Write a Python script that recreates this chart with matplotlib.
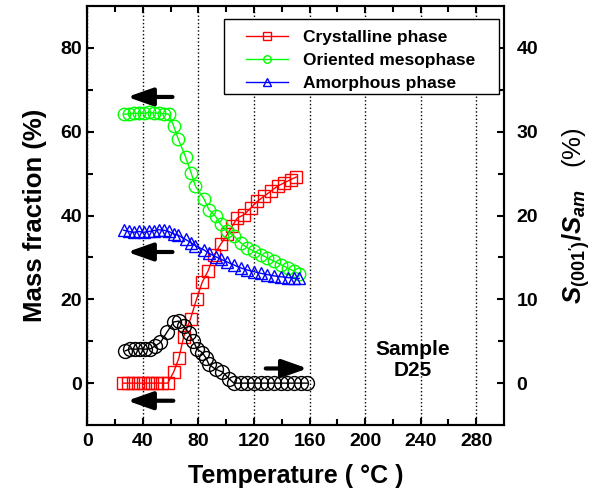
import matplotlib
matplotlib.use("Agg")
import matplotlib.pyplot as plt
from matplotlib.patches import Rectangle

plt.rcParams['font.family'] = ['Liberation Sans', 'DejaVu Sans']
plt.rcParams['font.weight'] = 'bold'
plt.rcParams['mathtext.fontset'] = 'custom'
plt.rcParams['mathtext.rm'] = 'Liberation Sans:bold'
plt.rcParams['mathtext.it'] = 'Liberation Sans:bold:italic'
plt.rcParams['mathtext.bf'] = 'Liberation Sans:bold'

# Crystalline phase (left axis, %)
t_cry = [26.0, 29.5, 33.0, 36.5, 40.0, 43.5, 47.0, 50.5, 54.0, 58.0,
         62.3, 65.9, 69.5, 74.4, 78.7, 82.8, 86.9, 91.2, 96.0, 100.8,
         104.5, 108.0, 112.9, 117.7, 122.5, 127.3, 132.1, 137.0, 141.7, 146.6, 150.5]
cry = [0, 0, 0, 0, 0, 0, 0, 0, 0, 0,
       2.7, 5.9, 11.1, 15.4, 20.0, 24.1, 26.7, 30.5, 33.1, 35.5,
       37.5, 39.4, 40.2, 41.8, 43.4, 44.6, 45.8, 47.0, 47.8, 48.6, 49.2]

# Oriented mesophase and amorphous phase (left axis, %)
t_mes = [26.2, 29.8, 33.4, 37.1, 40.7, 44.3, 47.9, 51.5, 55.1, 58.7,
         62.3, 65.5, 70.8, 74.8, 77.9, 84.0, 87.6, 92.4, 96.0, 100.8,
         105.6, 110.4, 115.2, 120.0, 124.9, 129.7, 134.5, 139.3, 144.2, 149.0, 152.6]
mes = [64.2, 64.2, 64.4, 64.4, 64.4, 64.6, 64.5, 64.4, 64.3, 64.2,
       61.3, 58.3, 54.0, 50.2, 47.0, 44.0, 41.4, 39.8, 37.9, 36.3,
       35.1, 33.5, 32.3, 31.5, 30.7, 29.9, 29.1, 28.3, 27.5, 26.7, 26.0]
amo = [36.5, 36.2, 36.0, 36.2, 36.0, 36.2, 36.4, 36.6, 36.5, 36.2,
       35.6, 35.3, 34.3, 33.5, 32.8, 31.8, 31.0, 30.2, 29.6, 28.9,
       28.2, 27.5, 27.0, 26.6, 26.2, 25.9, 25.6, 25.4, 25.2, 25.0, 25.0]

# S(001')/Sam (right axis, %)
t_s = [27.4, 31.0, 34.7, 38.3, 41.9, 45.5, 49.1, 52.7, 57.5, 62.3,
       65.9, 69.5, 73.1, 76.3, 79.2, 82.8, 85.5, 87.6, 92.4, 97.2,
       102.0, 105.6, 110.4, 115.2, 120.0, 124.8, 129.6, 134.4, 139.2,
       144.0, 148.8, 153.6, 158.4]
s_ratio = [3.85, 4.1, 4.05, 4.1, 4.05, 4.1, 4.45, 4.85, 6.1, 7.3,
           7.4, 6.8, 6.0, 5.0, 4.05, 3.65, 3.0, 2.25, 1.65, 1.35,
           0.55, 0, 0, 0, 0, 0, 0, 0, 0, 0, 0, 0, 0]

fig = plt.figure(figsize=(5.93, 5.03), dpi=100)
ax = fig.add_axes([0.147, 0.155, 0.703, 0.833])
ax2 = ax.twinx()

ms = 8.5
ax.plot(t_cry, cry, color='red', lw=1, marker='s', ms=ms, mfc='none', mec='red',
        mew=1, label='Crystalline phase')
ax.plot(t_mes, mes, color='#00ff00', lw=1, marker='o', ms=ms + 0.5, mfc='none',
        mec='#00ff00', mew=1, label='Oriented mesophase')
ax.plot(t_mes, amo, color='blue', lw=1, marker='^', ms=ms, mfc='none', mec='blue',
        mew=1, label='Amorphous phase')
ax2.plot(t_s, s_ratio, color='black', lw=1, marker='o', ms=ms + 1.5, mfc='none',
         mec='black', mew=1)

ax.set_xlim(0, 300)
ax.set_ylim(-10, 90)
ax2.set_ylim(-5, 45)
ax.set_xticks(range(0, 281, 40))
ax.set_xticks(range(20, 300, 40), minor=True)
ax.set_yticks(range(0, 81, 20))
ax.set_yticks(range(10, 90, 20), minor=True)
ax2.set_yticks(range(0, 41, 10))
ax2.set_yticks(range(5, 45, 10), minor=True)

ax.grid(axis='x', which='major', linestyle=':', color='black', lw=1)
ax.set_axisbelow(True)

for a in (ax, ax2):
    for sp in a.spines.values():
        sp.set_linewidth(1.5)
    a.tick_params(which='major', direction='in', length=5, width=1.5, labelsize=14)
    a.tick_params(which='minor', direction='in', length=4, width=1.5)
ax.tick_params(axis='y', right=False)
ax.tick_params(axis='x', which='both', top=True)
ax.tick_params(axis='x', pad=6)
ax2.tick_params(axis='y', left=False, pad=9)

ax.set_xlabel('Temperature ( °C )', fontsize=18, fontweight='bold', labelpad=10)
ax.set_ylabel('Mass fraction (%)', fontsize=18.5, fontweight='bold', labelpad=10)
ax2.set_ylabel(r"$S_{(001')}/S_{am}$   (%)", fontsize=18.5, labelpad=16)

# direction arrows
arrow = dict(arrowstyle='-|>,head_length=0.85,head_width=0.3', lw=3, color='black',
             shrinkA=0, shrinkB=0, mutation_scale=18)
ax.annotate('', xy=(28.9, 68.3), xytext=(61.4, 68.3), arrowprops=arrow)
ax.annotate('', xy=(28.9, 31.3), xytext=(61.4, 31.3), arrowprops=arrow)
ax.annotate('', xy=(28.9, -4.2), xytext=(62.0, -4.2), arrowprops=arrow)
ax2.annotate('', xy=(158.6, 1.75), xytext=(128.5, 1.75), arrowprops=arrow)

ax.text(234, 5.5, 'Sample\nD25', ha='center', va='center', fontsize=15,
        fontweight='bold', linespacing=1.1)

# legend box (wider horizontal padding than matplotlib's frame allows)
ax2.add_patch(Rectangle((0.329, 0.790), 0.659, 0.179, transform=ax.transAxes,
                        facecolor='white', edgecolor='black', lw=1, zorder=4))
h, l = ax.get_legend_handles_labels()
leg = ax2.legend(h, l, loc='upper left', bbox_to_anchor=(0.380, 0.943), fontsize=12.5,
                 frameon=False, handlelength=2.42, handletextpad=0.86,
                 borderaxespad=0, borderpad=0, labelspacing=0.45, markerscale=0.6)
leg.set_zorder(5)
for txt in leg.get_texts():
    txt.set_fontweight('bold')

fig.savefig('out.png', dpi=100)
